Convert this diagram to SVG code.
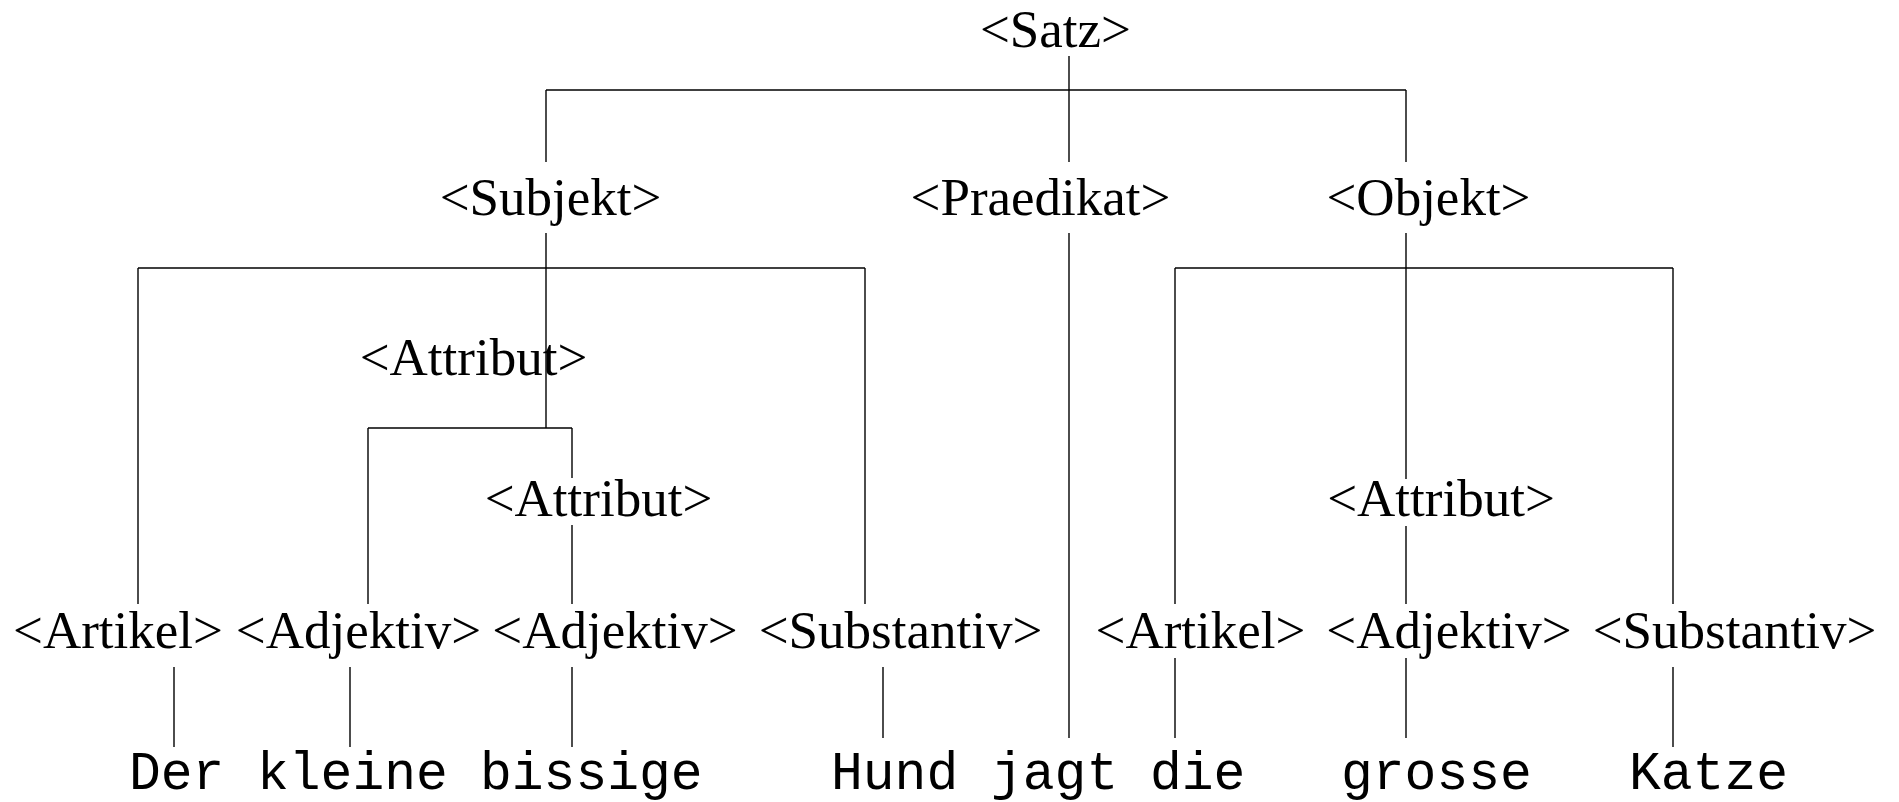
<svg xmlns="http://www.w3.org/2000/svg" width="1899" height="802" viewBox="0 0 1899 802">
<style>
.n{font-family:"Liberation Serif","Times New Roman",serif;font-size:53px;fill:#000;text-anchor:middle}
.w{font-family:"Liberation Mono","Courier New",monospace;font-size:53px;fill:#000}
.c line{stroke:#000;stroke-width:1.4;fill:none}
</style>
<rect width="1899" height="802" fill="#fff"/>
<g class="c" id="connectors">
<line x1="1069" y1="56" x2="1069" y2="162"/>
<line x1="546" y1="90" x2="1406" y2="90"/>
<line x1="546" y1="90" x2="546" y2="162"/>
<line x1="1406" y1="90" x2="1406" y2="162"/>
<line x1="546" y1="233" x2="546" y2="428"/>
<line x1="138" y1="268" x2="865" y2="268"/>
<line x1="138" y1="268" x2="138" y2="604"/>
<line x1="865" y1="268" x2="865" y2="604"/>
<line x1="368" y1="428" x2="572" y2="428"/>
<line x1="368" y1="428" x2="368" y2="604"/>
<line x1="572" y1="428" x2="572" y2="478"/>
<line x1="572" y1="525" x2="572" y2="604"/>
<line x1="1069" y1="233" x2="1069" y2="738"/>
<line x1="1406" y1="233" x2="1406" y2="479"/>
<line x1="1175" y1="268" x2="1673" y2="268"/>
<line x1="1175" y1="268" x2="1175" y2="604"/>
<line x1="1673" y1="268" x2="1673" y2="604"/>
<line x1="1406" y1="526" x2="1406" y2="604"/>
<line x1="174" y1="667" x2="174" y2="747"/>
<line x1="350" y1="667" x2="350" y2="747"/>
<line x1="572" y1="667" x2="572" y2="747"/>
<line x1="883" y1="667" x2="883" y2="738"/>
<line x1="1175" y1="658" x2="1175" y2="738"/>
<line x1="1406" y1="658" x2="1406" y2="738"/>
<line x1="1673" y1="667" x2="1673" y2="747"/>
</g>
<g id="satz"><text class="n" x="1055.5" y="47">&lt;Satz&gt;</text></g>
<g id="subjekt"><text class="n" x="550.5" y="215">&lt;Subjekt&gt;</text></g>
<g id="praedikat"><text class="n" x="1040.5" y="215">&lt;Praedikat&gt;</text></g>
<g id="objekt"><text class="n" x="1428.5" y="215">&lt;Objekt&gt;</text></g>
<g id="attribut1"><text class="n" x="473.5" y="375">&lt;Attribut&gt;</text></g>
<g id="attribut2"><text class="n" x="598.5" y="516">&lt;Attribut&gt;</text></g>
<g id="attribut3"><text class="n" x="1441" y="516">&lt;Attribut&gt;</text></g>
<g id="artikel1"><text class="n" x="118" y="648">&lt;Artikel&gt;</text></g>
<g id="adjektiv1"><text class="n" x="358.5" y="648">&lt;Adjektiv&gt;</text></g>
<g id="adjektiv2"><text class="n" x="615" y="648">&lt;Adjektiv&gt;</text></g>
<g id="substantiv1"><text class="n" x="900.5" y="648">&lt;Substantiv&gt;</text></g>
<g id="artikel2"><text class="n" x="1200.5" y="648">&lt;Artikel&gt;</text></g>
<g id="adjektiv3"><text class="n" x="1449" y="648">&lt;Adjektiv&gt;</text></g>
<g id="substantiv2"><text class="n" x="1734.5" y="648">&lt;Substantiv&gt;</text></g>
<g id="w-der"><text class="w" x="129" y="789">Der</text></g>
<g id="w-kleine"><text class="w" x="257" y="789">kleine</text></g>
<g id="w-bissige"><text class="w" x="480" y="789">bissige</text></g>
<g id="w-hund"><text class="w" x="831" y="789">Hund</text></g>
<g id="w-jagt"><text class="w" x="991" y="789">jagt</text></g>
<g id="w-die"><text class="w" x="1150" y="789">die</text></g>
<g id="w-grosse"><text class="w" x="1341" y="789">grosse</text></g>
<g id="w-katze"><text class="w" x="1629" y="789">Katze</text></g>
</svg>
